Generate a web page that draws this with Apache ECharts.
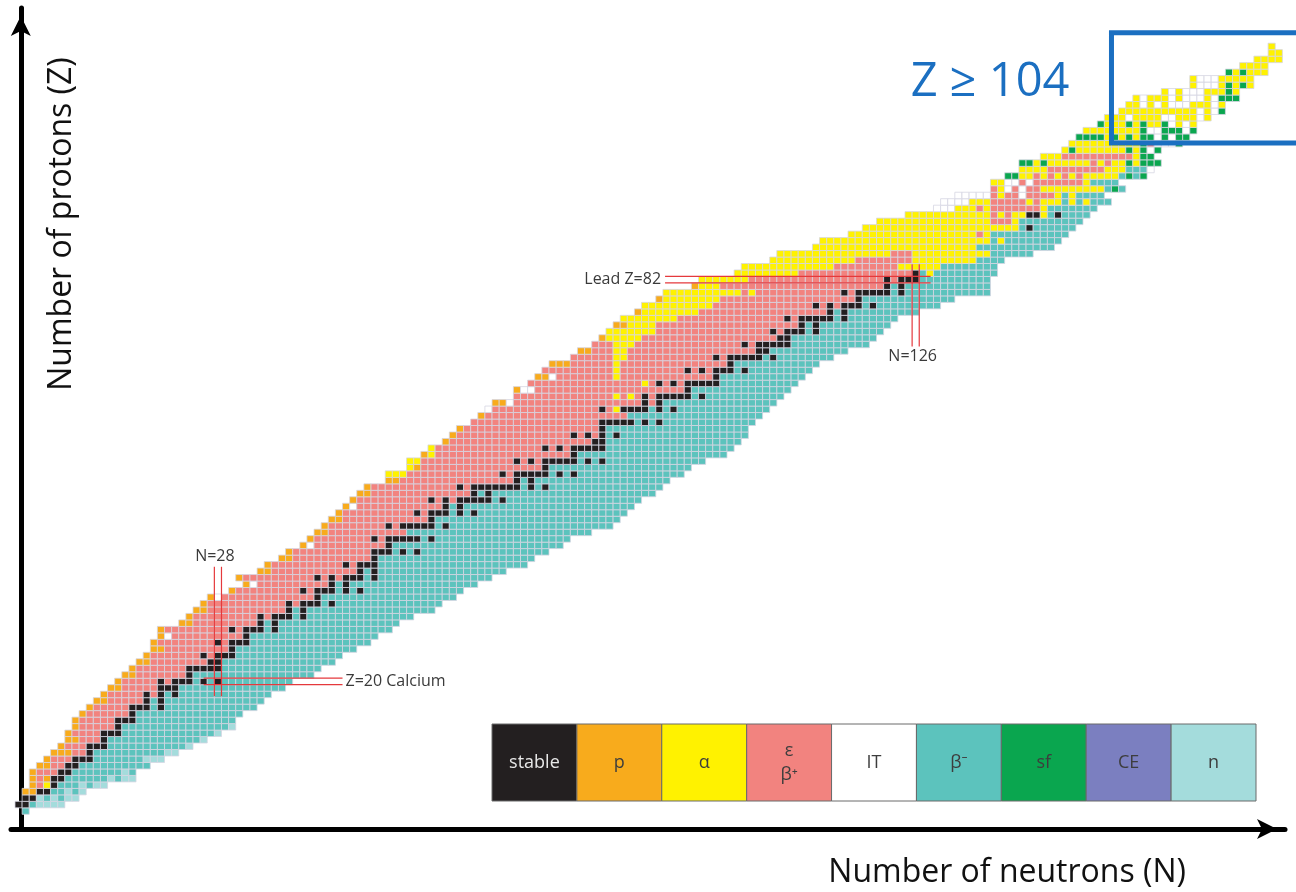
<!DOCTYPE html>
<html>
<head>
<meta charset="utf-8">
<title>Chart of nuclides</title>
<script src="https://cdn.jsdelivr.net/npm/echarts@6/dist/echarts.min.js"></script>
<style>
  html, body { margin: 0; padding: 0; background: #ffffff; }
  #chart { width: 1296px; height: 892px; }
</style>
</head>
<body>
<div id="chart"></div>
<script>
// Decay-mode keys used in the run strings, with their legend text and colours
const modeKeys   = ['S', 'p', 'a', 'e', 'i', 'b', 'f', 'c', 'n'];
const modeLabels = ['stable', 'p', 'α', 'ε\nβ⁺', 'IT', 'β⁻', 'sf', 'CE', 'n'];
const modeColors = ['#231f20', '#f8ab1c', '#fff200', '#f2837f', '#ffffff', '#5cc3bd', '#0aa64f', '#7b7fc0', '#a4dcdc'];

// Lightest known neutron number of each element, Z = 0 … 118
const firstNeutron = [
  1, 0, 1, 1, 2, 2, 2, 3, 4, 5,
  6, 7, 7, 8, 8, 9, 10, 11, 12, 13,
  14, 15, 16, 17, 18, 19, 19, 20, 20, 23,
  24, 25, 26, 27, 30, 32, 31, 34, 35, 37,
  38, 40, 41, 42, 43, 44, 45, 46, 47, 48,
  49, 52, 52, 55, 55, 57, 58, 60, 61, 62,
  64, 65, 66, 67, 70, 70, 72, 73, 74, 75,
  78, 79, 81, 82, 83, 84, 85, 87, 88, 90,
  91, 95, 96, 101, 102, 106, 107, 112, 113, 117,
  119, 121, 125, 129, 130, 132, 137, 137, 139, 141,
  141, 144, 147, 148, 149, 150, 152, 153, 155, 156,
  157, 161, 165, 165, 170, 172, 174, 176, 176
];

// Decay mode along each isotope chain, run-length coded (mode key + count), Z = 0 … 118
const decayRuns = [
  'b1', 'S2b1n4', 'S2n1b1n1b1n2', 'p2S2b2n1b1n1', 'p1e1a1S1b3n1b1n2',
  'p1e1p1S2b6n1b1n2', 'p1e3S2b7n1b1', 'p2e2S2b10', 'p1e3S3b7n3', 'p3e2S1b10n2',
  'p1e3S3b11n1', 'p2e3S1b13n1', 'p1e4S3b13n1', 'p1e5S1b15n1', 'p1e5S3b14',
  'p1e6S1b15', 'p1e5S3b1S1b13', 'p2e5S1b1S1b14', 'p1e5S1e1S1b1S1b13', 'p2e5S3b15',
  'p1e5S1e1S3b1S1b1S1b10', 'p2e7S1b17', 'p1e7S5b14', 'p2e8S2b16', 'p1e7S1e1S3b15',
  'p2e9S1b17', 'p1e8S1e1S3b17', 'p1i1e10S1b18', 'p1e9S1e1S3b1S1b16', 'p2e9S1b1S1b17',
  'p1e9S1e1S3b1S1b15', 'p2e11S1b1S1b18', 'p1e11S1e1S3b1S1b15', 'p1i1e13S1b19', 'p1e9S1e1S3b1S1b1S1b14',
  'p1i1e10S1b1S1b18', 'p1e10S1e1S1e1S3b1S1b16', 'p2e12S1b1S1b18', 'p1e10S1e1S3b21', 'p2e11S1b22',
  'p1e11S3b1S1b1S1b18', 'p1i1e10S1b24', 'p1e8S1e1S5b1S1b19', 'p2e11b26', 'p1e8S1e1S5b1S1b23',
  'p2e12S1b26', 'p1e10S1e1S3b1S1b1S1b21', 'p1i1e12S1b1S1b24', 'p1e10S1e1S1e1S5b1S1b19', 'p2e14S1b1S1b23',
  'p1e12S1e1S7b1S1b1S1b16', 'p2e16S1b1S1b19', 'a3e13S1e1S5b1S1b1S1b15', 'a1p1e17S1b20', 'a2e13S1e1S1e1S5b1S1b1S1b14',
  'p1a1e19S1b21', 'a1e15S1e1S1e1S5b18', 'p1e20S2b19', 'p1e16S1e1S1e1S1b1S1b18', 'p1e19S1b20',
  'e18S5b1S1b1S1b13', 'p1e20b19', 'i1e15S1e1a1S4b1S1b1S1b13', 'p2i1e18S1e1S1b16', 'e14a1e1a1e1S1e1S5b1S1b11',
  'p1i2e21S1b14', 'e16a1e1S1e1S1e1S5b11', 'p2i1e8a1e13S1b12', 'e10a1e9S1e1S1e1S3b1S1b9', 'p3e6a1e15S1b12',
  'e6a2e12S1e1S5b1S1b8', 'p2e3a2e18S2b11', 'e3a3e15S1e1S5b11', 'p1a5e19S2b12', 'a7e16S1e1S3b1S1b9',
  'p2a4e20S1b1S1b10', 'a8e15S1e1S5b1S1b7', 'p1a8e18S1b1S1b10', 'a10e14S1e1S1e1S3b1S1b9', 'p1a8e19S1b13',
  'a11e1a1e12S1e1S5b1S1b12', 'p1a3e23S1b1S1b12', 'a7e19S1e1S3b10', 'a9e16S1b1a1b9', 'a13e9a6b8',
  'a12e8a9b4', 'a16e3a11b6', 'a23b11', 'a24b1a1b8', 'a18e1a1b11',
  'a22b1S1b6', 'a16e3a1b9', 'a12e1a1e1a2S2a1b1S1b4', 'i3a3e1a1e7a1b7', 'i4a3e5a1e1a3b1a1b1a1b3',
  'i5e1a1e2i1e4a1b1a1b4', 'e1a1i1e1i1e2a9b1f1b1', 'a2i2e1i1e7a1b4', 'f2a2e1a1e1a1e1a1e1a5b1f1b1f1', 'a4e8a3b3i1',
  'f2a1f1a6e1a1e1a2f1a1f3', 'a3e10a1f2', 'a1f1a7f1a1f1i1f1', 'a10f1e1i3f1', 'f4a1f1a1f1a1f2i1f1i1f2',
  'a8f1i2f3i1f1', 'f1a3f1a1f1a2f1i1a1i1a1', 'a3i1a4i2a3i1a1', 'a11i1a1i1f1', 'a2i1a1i1a1i3a3i1a1',
  'a1i1a3i1a1i3a1i1f3', 'a1i1a1i3a3f1a1', 'a1i3a1f1a1f1a1', 'a1i3a5', 'f1a1f1a3',
  'a4', 'a4', 'a2', 'a1'
];

// Shell-closure guides: element row or neutron column, and the span they cover
const guideTexts  = ['Lead Z=82', 'N=126', 'N=28', 'Z=20 Calcium'];
const guideAxis   = ['Z', 'N', 'N', 'Z'];
const guideValues = [82, 126, 28, 20];
const guideFrom   = [91.3, 84.9, 38.2, 26.5];
const guideTo     = [128.6, 72.2, 18.2, 46];

// Superheavy region highlighted by the blue frame: N range and Z range
const superheavyN = [154, 182];
const superheavyZ = [103.6, 120.6];
const superheavyText = 'Z ≥ 104';

// ---- expand the run strings into one cell per nuclide ----
const cells = [];
decayRuns.forEach(function (runs, z) {
  let n = firstNeutron[z];
  const re = /([A-Za-z])(\d+)/g;
  let m;
  while ((m = re.exec(runs)) !== null) {
    const mode = modeKeys.indexOf(m[1]);
    for (let k = 0; k < +m[2]; k++) cells.push([n++, z, mode]);
  }
});

const guides = guideTexts.map(function (t, i) {
  return [i, guideValues[i], guideFrom[i], guideTo[i]];
});
const labelSide = ['start', 'end', 'start', 'end'];

const FONT = "'Open Sans', 'Noto Sans', sans-serif";
const chart = echarts.init(document.getElementById('chart'), null, { renderer: 'canvas' });

// legend strip built from the mode arrays
const legendLeft = 492, legendTop = 724, legendW = 764, legendH = 77;
const legendEls = [];
modeLabels.forEach(function (lab, i) {
  const w = legendW / modeLabels.length;
  legendEls.push({
    type: 'rect',
    shape: { x: legendLeft + i * w, y: legendTop, width: w, height: legendH },
    style: { fill: modeColors[i], stroke: '#6a6a6a', lineWidth: 1 }
  });
  legendEls.push({
    type: 'text',
    x: legendLeft + i * w + w / 2,
    y: legendTop + legendH / 2,
    style: {
      text: lab, align: 'center', verticalAlign: 'middle',
      fill: i === 0 ? '#e8e8e8' : '#3d3d3d',
      font: '18px ' + FONT, lineHeight: 24
    }
  });
});

const option = {
  animation: false,
  backgroundColor: '#ffffff',
  grid: [
    { left: 15, bottom: 77.7, width: 178 * 7.12, height: 122 * 6.48, outerBoundsMode: 'none', containLabel: false },
    { left: 11, right: 11, top: 8, bottom: 63, outerBoundsMode: 'none', containLabel: false }
  ],
  xAxis: [
    { gridIndex: 0, type: 'value', min: 0, max: 178, show: false },
    {
      gridIndex: 1, type: 'value', min: 0, max: 1,
      axisLine: { show: true, symbol: ['none', 'arrow'], symbolSize: [15, 20], symbolOffset: [0, -8],
        lineStyle: { color: '#000000', width: 5 } },
      axisTick: { show: false }, axisLabel: { show: false }, splitLine: { show: false }
    }
  ],
  yAxis: [
    { gridIndex: 0, type: 'value', min: 0, max: 122, show: false },
    {
      gridIndex: 1, type: 'value', min: 0, max: 1, offset: -9.8,
      axisLine: { show: true, symbol: ['none', 'arrow'], symbolSize: [15, 20], symbolOffset: [0, -8],
        lineStyle: { color: '#000000', width: 5 } },
      axisTick: { show: false }, axisLabel: { show: false }, splitLine: { show: false }
    }
  ],
  series: [
    {
      type: 'custom',
      name: 'nuclides',
      xAxisIndex: 0, yAxisIndex: 0,
      dimensions: ['N', 'Z', 'mode'],
      encode: { x: 0, y: 1 },
      data: cells,
      z: 2,
      renderItem: function (params, api) {
        const n = api.value(0), z = api.value(1), mode = api.value(2);
        const tl = api.coord([n, z + 1]);
        const br = api.coord([n + 1, z]);
        return {
          type: 'rect',
          shape: { x: tl[0], y: tl[1], width: br[0] - tl[0], height: br[1] - tl[1] },
          style: { fill: modeColors[mode], stroke: 'rgba(214,214,226,0.8)', lineWidth: 1 }
        };
      }
    },
    {
      type: 'custom',
      name: 'shell guides',
      xAxisIndex: 0, yAxisIndex: 0,
      data: guides,
      z: 5,
      renderItem: function (params, api) {
        const i = api.value(0), v = api.value(1), a = api.value(2), b = api.value(3);
        const horizontal = guideAxis[i] === 'Z';
        const pt = function (along, across) {
          return horizontal ? api.coord([along, across]) : api.coord([across, along]);
        };
        const l1s = pt(a, v), l1e = pt(b, v), l2s = pt(a, v + 1), l2e = pt(b, v + 1);
        const ms = pt(a, v + 0.5), me = pt(b, v + 0.5);
        const lineStyle = { stroke: '#e5393c', lineWidth: 1.2 };
        const atStart = labelSide[i] === 'start';
        const anchor = atStart ? ms : me;
        let tx, ty, align, vAlign;
        if (horizontal) {
          tx = anchor[0] + (atStart ? -4 : 3); ty = anchor[1];
          align = atStart ? 'right' : 'left'; vAlign = 'middle';
        } else {
          tx = anchor[0] - 3; ty = anchor[1] + (atStart ? -2 : 2);
          align = 'center'; vAlign = atStart ? 'bottom' : 'top';
        }
        return {
          type: 'group',
          children: [
            { type: 'line', shape: { x1: l1s[0], y1: l1s[1], x2: l1e[0], y2: l1e[1] }, style: lineStyle },
            { type: 'line', shape: { x1: l2s[0], y1: l2s[1], x2: l2e[0], y2: l2e[1] }, style: lineStyle },
            { type: 'text', x: tx, y: ty,
              style: { text: guideTexts[i], align: align, verticalAlign: vAlign, fill: '#3a3a3a', font: '16px ' + FONT } }
          ]
        };
      }
    },
    {
      type: 'custom',
      name: 'superheavy',
      xAxisIndex: 0, yAxisIndex: 0,
      data: [[superheavyN[0], superheavyZ[0], superheavyN[1], superheavyZ[1]]],
      z: 6,
      renderItem: function (params, api) {
        const p0 = api.coord([api.value(0), api.value(3)]);
        const p1 = api.coord([api.value(2), api.value(1)]);
        return {
          type: 'group',
          children: [
            { type: 'rect', shape: { x: p0[0], y: p0[1], width: p1[0] - p0[0], height: p1[1] - p0[1] },
              style: { fill: 'none', stroke: '#1b6fc1', lineWidth: 5 } },
            { type: 'text', x: p0[0] - 42, y: p0[1] + 50,
              style: { text: superheavyText, align: 'right', verticalAlign: 'middle', fill: '#1b6fc1', font: '47px ' + FONT } }
          ]
        };
      }
    }
  ],
  graphic: [
    { type: 'group', children: legendEls },
    { type: 'text', x: 1186, y: 873,
      style: { text: 'Number of neutrons (N)', align: 'right', verticalAlign: 'middle', fill: '#111111', font: '32px ' + FONT } },
    { type: 'text', x: 62, y: 224, rotation: Math.PI / 2,
      style: { text: 'Number of protons (Z)', align: 'center', verticalAlign: 'middle', fill: '#111111', font: '32px ' + FONT } }
  ]
};

chart.setOption(option);
</script>
</body>
</html>
